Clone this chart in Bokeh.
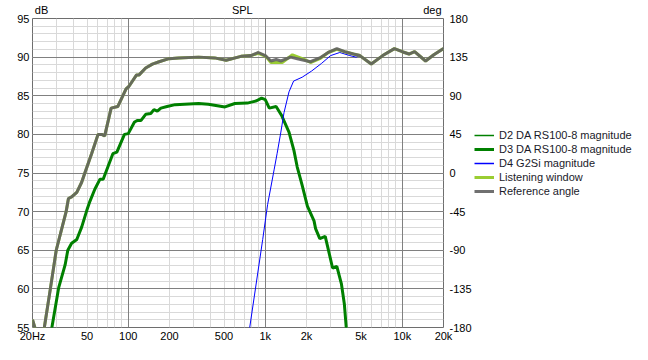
from bokeh.plotting import figure
from bokeh.layouts import row
from bokeh.models import Range1d, LinearAxis, LogAxis, FixedTicker, Grid, Legend, LegendItem
from bokeh.embed import file_html
from bokeh.resources import INLINE

# ---- data ----
ref_f = [20, 20.8, 21.5, 23, 24.4, 27, 29.8, 32.5, 35.2, 36.6, 38.6, 42.1, 45.7, 48.2, 54, 60.2, 64, 67.3,
         75, 83.8, 96.4, 101, 115, 120, 134, 150, 168, 198, 233, 326, 427, 518, 665, 786, 890, 1010,
         1100, 1200, 1300, 1530, 1714, 2136, 2500, 2880, 3330, 3800, 4400, 4900, 5940, 7200, 8760,
         10000, 11200, 12300, 14800, 17000, 20000]
ref_db = [56.0, 55.0, 54.0, 54.0, 55.0, 60.0, 65.0, 67.6, 70.0, 71.7, 71.9, 72.5, 73.8, 75.0, 77.5, 80.0, 80.0, 79.8,
          83.4, 83.6, 85.9, 86.2, 87.7, 87.7, 88.6, 89.1, 89.4, 89.8, 89.9, 90.0, 89.9, 89.6, 90.1, 90.2, 90.6, 90.15,
          89.5, 89.7, 89.5, 90.0, 89.8, 89.4, 89.9, 90.6, 91.1, 90.7, 90.4, 90.2, 89.1, 90.2, 91.1,
          90.7, 90.4, 90.7, 89.5, 90.3, 91.1]

lw_f = [20, 20.8, 21.5, 23, 24.4, 27, 29.8, 32.5, 35.2, 36.6, 38.6, 42.1, 45.7, 48.2, 54, 60.2, 64, 67.3,
        75, 83.8, 96.4, 101, 115, 120, 134, 150, 168, 198, 233, 326, 427, 518, 665, 786, 890, 1010,
        1100, 1170, 1330, 1580, 1930, 2140, 2500, 2880, 3330, 3800, 4400, 4900, 5940, 7200, 8760,
        10000, 11200, 12300, 14800, 17000, 20000]
lw_db = [56.0, 55.0, 54.0, 54.0, 55.0, 60.0, 65.0, 67.6, 70.0, 71.7, 71.9, 72.5, 73.8, 75.0, 77.5, 80.0, 80.0, 79.8,
         83.4, 83.6, 85.9, 86.2, 87.7, 87.7, 88.6, 89.1, 89.4, 89.8, 89.9, 90.0, 89.9, 89.6, 90.1, 90.2, 90.5, 90.1,
         89.3, 89.3, 89.3, 90.3, 89.7, 89.3, 89.8, 90.6, 91.0, 90.7, 90.4, 90.2, 89.1, 90.2, 91.1,
         90.7, 90.4, 90.7, 89.5, 90.3, 91.1]

d3_f = [26, 27.7, 31.1, 34.6, 36.2, 38.6, 42.1, 45.7, 49.7, 52.4, 57, 62.2, 65.6, 77.2, 82.6, 93.8, 100,
        111, 117, 124, 134, 146, 154, 163, 173, 192, 220, 326, 384, 508, 600, 741, 865, 940, 1000,
        1070, 1200, 1320, 1490, 1620, 1710, 1860, 2030, 2270, 2330, 2500, 2740, 2850, 3100, 3330,
        3600, 3780, 3900, 4000]
d3_db = [53.0, 55.0, 60.2, 63.1, 65.0, 65.9, 66.4, 68.0, 70.1, 71.3, 72.9, 74.2, 74.2, 77.5, 77.7, 80.0, 80.1,
         81.6, 81.8, 81.8, 82.6, 82.7, 83.2, 83.0, 83.4, 83.6, 83.85, 84.0, 83.9, 83.55, 84.0, 84.05, 84.35, 84.7, 84.5,
         83.4, 83.6, 82.4, 80.3, 77.9, 75.8, 73.4, 70.7, 68.8, 67.8, 66.5, 66.8, 65.5, 62.7, 62.9,
         60.6, 58.0, 55.0, 53.0]
d2_f = d3_f
d2_db = d3_db

d4_f = [740, 770, 958, 1040, 1160, 1220, 1300, 1370, 1490, 1610, 1860, 2180, 2580, 3000, 3500, 4140, 4600,
        4900, 5940, 7200, 8760, 10000, 11200, 12300, 14800, 17000, 20000]
d4_db = [53.0, 55.0, 66.4, 70.9, 75.4, 77.5, 80.3, 82.8, 85.5, 86.9, 87.4, 88.2, 89.2, 90.2, 90.6, 90.2, 90.0,
         90.2, 89.1, 90.2, 91.1, 90.7, 90.4, 90.7, 89.5, 90.3, 91.1]

x_ticks = [20, 50, 100, 200, 500, 1000, 2000, 5000, 10000, 20000]
x_tick_labels = ["20Hz", "50", "100", "200", "500", "1k", "2k", "5k", "10k", "20k"]
x_minor = [30, 40, 50, 60, 70, 80, 90, 200, 300, 400, 500, 600, 700, 800, 900,
           2000, 3000, 4000, 5000, 6000, 7000, 8000, 9000, 20000]
x_major = [100, 1000, 10000]
y_ticks = [55, 60, 65, 70, 75, 80, 85, 90, 95]
y_minor = [v for v in range(55, 96)]
deg_ticks = [-180, -135, -90, -45, 0, 45, 90, 135, 180]
deg_labels = ["-180", "-135", "-90", "-45", "0", "45", "90", "135", "180"]

# header texts above the frame: left unit, title, right unit
top_texts = ["dB", "SPL", "deg"]
top_pos = [23.3, 680, 16600]

labels = ["D2 DA RS100-8 magnitude", "D3 DA RS100-8 magnitude", "D4 G2Si magnitude",
          "Listening window", "Reference angle"]
colors = ["#008000", "#008000", "#0000ff", "#9acd32", "#606060"]
widths = [1, 3, 1, 3, 3]
swatch_widths = [1.5, 3, 1.5, 3, 3]
alphas = [1, 1, 1, 1, 0.9]

FONT = "Liberation Sans"
MAIN_W, H = 474, 344
LEG_W = 632 - MAIN_W

p = figure(width=MAIN_W, height=H, x_axis_type="log", x_range=Range1d(20, 20000), y_range=Range1d(55, 95),
           output_backend="svg", toolbar_location=None,
           min_border_left=32, min_border_top=18, min_border_bottom=15, min_border_right=28)
p.background_fill_color = "white"
p.border_fill_color = "white"
p.outline_line_color = "#6e6e6e"
p.outline_line_width = 1

p.xgrid.visible = False
p.ygrid.visible = False
light = "#d9d9d9"
dark = "#808080"
p.add_layout(Grid(dimension=0, ticker=FixedTicker(ticks=x_minor), grid_line_color=light))
p.add_layout(Grid(dimension=1, ticker=FixedTicker(ticks=y_minor), grid_line_color=light))
p.add_layout(Grid(dimension=0, ticker=FixedTicker(ticks=x_major), grid_line_color=dark))
p.add_layout(Grid(dimension=1, ticker=FixedTicker(ticks=y_ticks), grid_line_color=dark))


def style_axis(ax, standoff=3):
    ax.axis_line_color = None
    ax.major_tick_line_color = None
    ax.minor_tick_line_color = None
    ax.major_tick_out = 0
    ax.major_tick_in = 0
    ax.minor_tick_out = 0
    ax.minor_tick_in = 0
    ax.major_label_text_font = FONT
    ax.major_label_text_font_size = "11px"
    ax.major_label_text_color = "#000000"
    ax.major_label_standoff = standoff


style_axis(p.xaxis[0], 2)
style_axis(p.yaxis[0], 3)
p.xaxis.ticker = FixedTicker(ticks=x_ticks)
p.xaxis.major_label_overrides = {t: l for t, l in zip(x_ticks, x_tick_labels)}
p.yaxis.ticker = FixedTicker(ticks=y_ticks)

p.extra_y_ranges = {"deg": Range1d(-180, 180)}
ra = LinearAxis(y_range_name="deg", ticker=FixedTicker(ticks=deg_ticks))
style_axis(ra, 6)
ra.major_label_overrides = {t: l for t, l in zip(deg_ticks, deg_labels)}
p.add_layout(ra, "right")

ta = LogAxis(ticker=FixedTicker(ticks=top_pos))
style_axis(ta, 3)
ta.major_label_overrides = {t: l for t, l in zip(top_pos, top_texts)}
p.add_layout(ta, "above")

series = [(d2_f, d2_db), (d3_f, d3_db), (d4_f, d4_db), (lw_f, lw_db), (ref_f, ref_db)]
for (xs, ys), c, w, a in zip(series, colors, widths, alphas):
    p.line(xs, ys, line_color=c, line_width=w, line_alpha=a)

# legend panel (a blank figure whose frame fills its canvas, so the legend is not clipped)
q = figure(width=LEG_W, height=H, x_range=Range1d(0, 1), y_range=Range1d(0, 1),
           output_backend="svg", toolbar_location=None, min_border=0)
q.axis.visible = False
q.xgrid.visible = False
q.ygrid.visible = False
q.outline_line_color = None
q.background_fill_color = "white"
q.border_fill_color = "white"
# legend swatch renderers: their points lie outside the visible range, so only the legend shows them
lr = [q.line([-2, -1], [-2, -2], line_color=c, line_width=w, line_alpha=a)
      for c, w, a in zip(colors, swatch_widths, alphas)]
legend = Legend(items=[LegendItem(label=l, renderers=[r]) for l, r in zip(labels, lr)],
                location=(0, 129))
legend.label_text_font = FONT
legend.label_text_font_size = "11px"
legend.label_text_color = "#1a1a2a"
legend.glyph_width = 20
legend.glyph_height = 14
legend.label_height = 14
legend.label_standoff = 5
legend.spacing = 0
legend.padding = 0
legend.margin = 0
legend.border_line_color = None
legend.background_fill_alpha = 0
q.add_layout(legend, "center")

layout = row(p, q, spacing=0)
open("out.html", "w").write(file_html(layout, INLINE))
